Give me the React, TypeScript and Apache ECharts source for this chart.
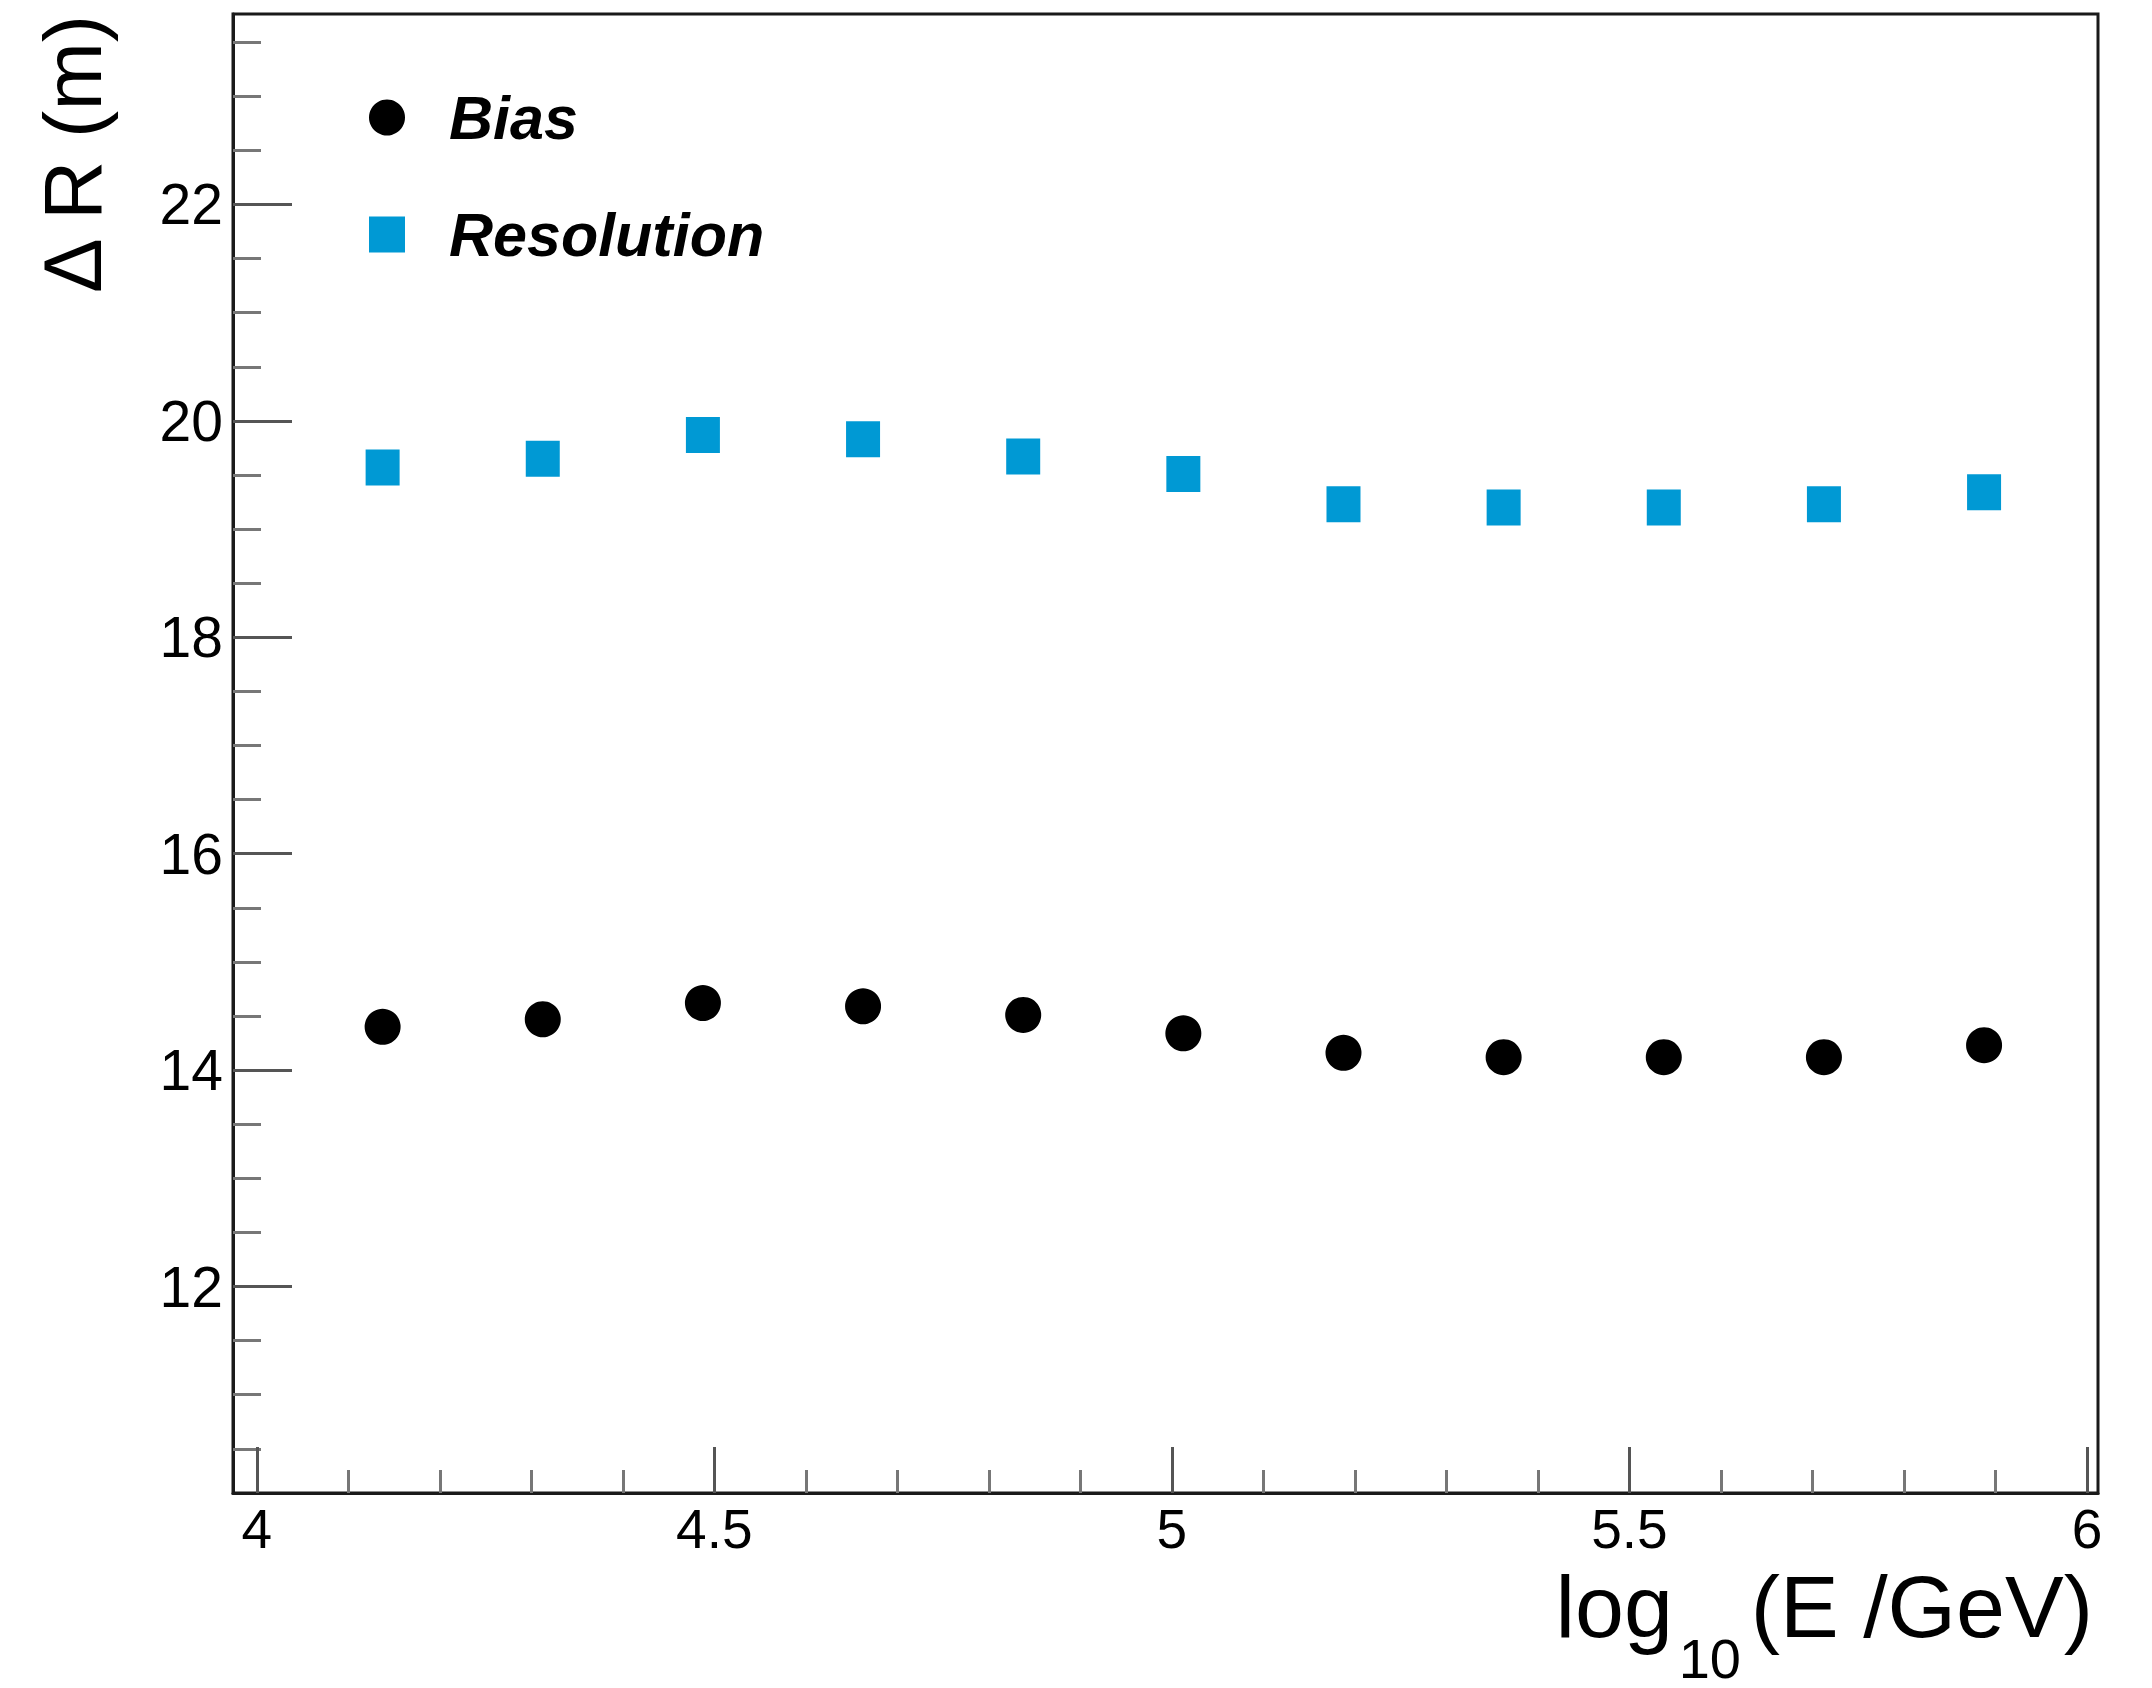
import React, { useEffect, useRef } from "react";
import * as echarts from "echarts";

// ---- data ----
const LOG_E = [4.1375, 4.3125, 4.4875, 4.6625, 4.8375, 5.0125, 5.1875, 5.3625, 5.5375, 5.7125, 5.8875];
const BIAS = [14.40, 14.47, 14.62, 14.59, 14.51, 14.34, 14.16, 14.12, 14.12, 14.12, 14.23];
const RESOLUTION = [19.57, 19.65, 19.87, 19.83, 19.67, 19.51, 19.23, 19.20, 19.20, 19.23, 19.34];

const X_MAJOR = [4, 4.5, 5, 5.5, 6];
const X_MINOR = [4.1, 4.2, 4.3, 4.4, 4.6, 4.7, 4.8, 4.9, 5.1, 5.2, 5.3, 5.4, 5.6, 5.7, 5.8, 5.9];
const Y_MAJOR = [12, 14, 16, 18, 20, 22];
const Y_MINOR = [10.5, 11, 11.5, 12.5, 13, 13.5, 14.5, 15, 15.5, 16.5, 17, 17.5, 18.5, 19, 19.5, 20.5, 21, 21.5, 22.5, 23, 23.5];

const X_MIN = 3.974;
const X_MAX = 6.012;
const Y_MIN = 10.092;
const Y_MAX = 23.76;

const FONT = "Liberation Sans";
const BLUE = "#0099d4";

export default function App() {
  const ref = useRef<HTMLDivElement>(null);

  useEffect(() => {
    if (!ref.current) return;
    const chart = echarts.init(ref.current, undefined, { renderer: "svg" });

    const biasData = LOG_E.map((x, i) => [x, BIAS[i]]);
    const resData = LOG_E.map((x, i) => [x, RESOLUTION[i]]);

    chart.setOption({
      animation: false,
      backgroundColor: "#ffffff",
      grid: {
        left: 233,
        right: 54,
        top: 14,
        bottom: 195,
        show: true,
        borderColor: "#1a1a1a",
        borderWidth: 3,
        backgroundColor: "transparent",
      },
      legend: {
        orient: "vertical",
        left: 369,
        top: 87,
        padding: 0,
        itemWidth: 36,
        itemHeight: 36,
        itemGap: 56,
        selectedMode: false,
        itemStyle: { opacity: 1 },
        textStyle: {
          fontFamily: FONT,
          fontSize: 61,
          fontWeight: "bold",
          fontStyle: "italic",
          color: "#000",
          lineHeight: 60,
          padding: [0, 0, 0, 39],
        },
        data: [
          { name: "Bias", icon: "circle" },
          { name: "Resolution", icon: "rect" },
        ],
      },
      xAxis: [
        {
          type: "value",
          min: X_MIN,
          max: X_MAX,
          position: "bottom",
          axisLine: { show: true, lineStyle: { color: "#1a1a1a", width: 3 } },
          axisTick: {
            show: true,
            inside: true,
            length: 46,
            customValues: X_MAJOR,
            lineStyle: { color: "#555", width: 3 },
          },
          axisLabel: {
            show: true,
            customValues: X_MAJOR,
            fontFamily: FONT,
            fontSize: 55,
            lineHeight: 50,
            color: "#000",
            margin: 11,
          },
          splitLine: { show: false },
        },
        {
          type: "value",
          min: X_MIN,
          max: X_MAX,
          position: "bottom",
          offset: 0,
          axisLine: { show: false },
          axisTick: {
            show: true,
            inside: true,
            length: 23,
            customValues: X_MINOR,
            lineStyle: { color: "#777", width: 3 },
          },
          axisLabel: { show: false },
          splitLine: { show: false },
        },
      ],
      yAxis: [
        {
          type: "value",
          min: Y_MIN,
          max: Y_MAX,
          position: "left",
          axisLine: { show: true, lineStyle: { color: "#1a1a1a", width: 3 } },
          axisTick: {
            show: true,
            inside: true,
            length: 59,
            customValues: Y_MAJOR,
            lineStyle: { color: "#555", width: 3 },
          },
          axisLabel: {
            show: true,
            customValues: Y_MAJOR,
            fontFamily: FONT,
            fontSize: 57,
            color: "#000",
            margin: 10,
          },
          splitLine: { show: false },
        },
        {
          type: "value",
          min: Y_MIN,
          max: Y_MAX,
          position: "left",
          offset: 0,
          axisLine: { show: false },
          axisTick: {
            show: true,
            inside: true,
            length: 28,
            customValues: Y_MINOR,
            lineStyle: { color: "#777", width: 3 },
          },
          axisLabel: { show: false },
          splitLine: { show: false },
        },
      ],
      series: [
        {
          name: "Bias",
          type: "scatter",
          symbol: "circle",
          symbolSize: 36,
          itemStyle: { color: "#000000", opacity: 1 },
          data: biasData,
          z: 5,
        },
        {
          name: "Resolution",
          type: "scatter",
          symbol: "rect",
          symbolSize: [34, 36],
          itemStyle: { color: BLUE, opacity: 1 },
          data: resData,
          z: 5,
        },
      ],
      graphic: [
        {
          type: "text",
          x: 72,
          y: 15,
          rotation: Math.PI / 2,
          style: {
            text: "Δ R (m)",
            fontFamily: FONT,
            fontSize: 82,
            lineHeight: 70,
            fill: "#000",
            align: "right",
            verticalAlign: "middle",
          },
        },
        {
          type: "text",
          x: 1673,
          y: 1606,
          style: {
            text: "log",
            fontFamily: FONT,
            fontSize: 88,
            lineHeight: 70,
            fill: "#000",
            align: "right",
            verticalAlign: "middle",
          },
        },
        {
          type: "text",
          x: 1741,
          y: 1658,
          style: {
            text: "10",
            fontFamily: FONT,
            fontSize: 56,
            lineHeight: 44,
            fill: "#000",
            align: "right",
            verticalAlign: "middle",
          },
        },
        {
          type: "text",
          x: 2093,
          y: 1606,
          style: {
            text: "(E /GeV)",
            fontFamily: FONT,
            fontSize: 88,
            lineHeight: 70,
            fill: "#000",
            align: "right",
            verticalAlign: "middle",
          },
        },
      ],
    });

    return () => {
      chart.dispose();
    };
  }, []);

  return (
    <div
      ref={ref}
      style={{ position: "absolute", left: 0, top: 0, width: 2152, height: 1688, background: "#fff" }}
    />
  );
}
